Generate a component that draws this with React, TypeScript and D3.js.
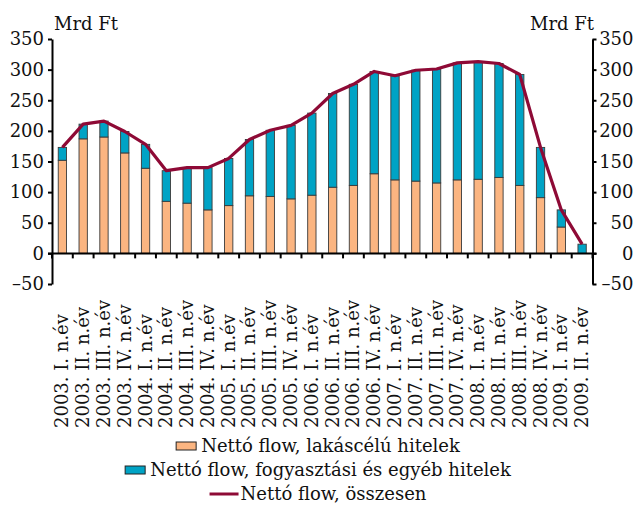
import React, { useEffect, useRef } from "react";
import * as d3 from "d3";

const categories = [
  "2003. I. n.év", "2003. II. n.év", "2003. III. n.év", "2003. IV. n.év",
  "2004. I. n.év", "2004. II. n.év", "2004. III. n.év", "2004. IV. n.év",
  "2005. I. n.év", "2005. II. n.év", "2005. III. n.év", "2005. IV. n.év",
  "2006. I. n.év", "2006. II. n.év", "2006. III. n.év", "2006. IV. n.év",
  "2007. I. n.év", "2007. II. n.év", "2007. III. n.év", "2007. IV. n.év",
  "2008. I. n.év", "2008. II. n.év", "2008. III. n.év", "2008. IV. n.év",
  "2009. I. n.év", "2009. II. n.év",
];

const housing = [152, 187, 190, 164, 139, 85, 82, 71, 78, 94, 93, 89, 95, 108, 111, 130, 120, 118, 115, 120, 121, 124, 111, 91, 43, 0];
const consumer = [21, 24, 26, 35, 39, 50, 58, 69, 77, 92, 108, 120, 134, 153, 165, 167, 170, 181, 186, 191, 192, 186, 181, 82, 28, 15];
const total = [173, 211, 216, 199, 178, 135, 140, 140, 155, 186, 201, 209, 229, 261, 276, 297, 290, 299, 301, 311, 313, 310, 292, 173, 71, 15];

const yTicks = [-50, 0, 50, 100, 150, 200, 250, 300, 350];
const unitLabel = "Mrd Ft";
const legendLabels = [
  "Nettó flow, lakáscélú hitelek",
  "Nettó flow, fogyasztási és egyéb hitelek",
  "Nettó flow, összesen",
];

const FONT = "DejaVu Serif";
const ORANGE = "#FBB581";
const TEAL = "#00A3C5";
const LINE = "#8E0A36";

export default function App() {
  const ref = useRef<SVGSVGElement | null>(null);

  useEffect(() => {
    const svg = d3.select(ref.current);
    svg.selectAll("*").remove();

    const left = 52, right = 592.5;
    const x = d3.scaleBand<string>().domain(categories).range([left, right]).paddingInner(0.6).paddingOuter(0.3);
    const step = x.step();
    const y = d3.scaleLinear().domain([-50, 350]).range([284, 39]);
    const fmt = (d: number) => (d < 0 ? "–" + Math.abs(d) : String(d));

    // Bars
    const g = svg.append("g");
    categories.forEach((c, i) => {
      const bx = x(c)!;
      const bw = x.bandwidth();
      if (housing[i] > 0) {
        g.append("rect")
          .attr("x", bx).attr("width", bw)
          .attr("y", y(housing[i])).attr("height", y(0) - y(housing[i]))
          .attr("fill", ORANGE).attr("stroke", "#3a3a3a").attr("stroke-width", 0.9);
      }
      g.append("rect")
        .attr("x", bx).attr("width", bw)
        .attr("y", y(housing[i] + consumer[i])).attr("height", y(housing[i]) - y(housing[i] + consumer[i]))
        .attr("fill", TEAL).attr("stroke", "#3a3a3a").attr("stroke-width", 0.9);
    });

    // Zero line + category ticks
    svg.append("line").attr("x1", left - 4).attr("x2", right + 4)
      .attr("y1", y(0)).attr("y2", y(0)).attr("stroke", "#000").attr("stroke-width", 2);
    for (let i = 0; i <= categories.length; i++) {
      const tx = left + i * step;
      svg.append("line").attr("x1", tx).attr("x2", tx).attr("y1", y(0)).attr("y2", y(0) + 5)
        .attr("stroke", "#000").attr("stroke-width", 2);
    }

    // Line
    const lineGen = d3.line<number>()
      .x((_, i) => x(categories[i])! + x.bandwidth() / 2)
      .y((d) => y(d));
    svg.append("path").datum(total).attr("d", lineGen as any)
      .attr("fill", "none").attr("stroke", LINE).attr("stroke-width", 3.2)
      .attr("stroke-linejoin", "round");

    // Left axis
    const la = svg.append("g").attr("transform", `translate(${left},0)`)
      .call(d3.axisLeft(y).tickValues(yTicks).tickSize(4).tickSizeOuter(0).tickFormat(fmt as any).tickPadding(4));
    la.select(".domain").attr("stroke-width", 2);
    la.selectAll(".tick line").attr("stroke-width", 2);
    la.selectAll("text").attr("font-family", FONT).attr("font-size", 18).attr("fill", "#111");

    // Right axis
    const ra = svg.append("g").attr("transform", `translate(${right},0)`)
      .call(d3.axisRight(y).tickValues(yTicks).tickSize(4).tickSizeOuter(0).tickFormat(fmt as any).tickPadding(4));
    ra.select(".domain").attr("stroke-width", 2);
    ra.selectAll(".tick line").attr("stroke-width", 2);
    ra.selectAll("text").attr("font-family", FONT).attr("font-size", 18).attr("fill", "#111")
      .attr("text-anchor", "end").attr("x", 41);

    // Unit labels
    svg.append("text").attr("x", 54).attr("y", 30).attr("font-family", FONT).attr("font-size", 18)
      .attr("fill", "#111").text(unitLabel);
    svg.append("text").attr("x", 594).attr("y", 30).attr("text-anchor", "end").attr("font-family", FONT)
      .attr("font-size", 18).attr("fill", "#111").text(unitLabel);

    // Category labels
    categories.forEach((c) => {
      const cx = x(c)! + x.bandwidth() / 2 + 6;
      svg.append("text")
        .attr("transform", `translate(${cx},428) rotate(-90)`)
        .attr("font-family", FONT).attr("font-size", 18).attr("fill", "#111")
        .text(c);
    });

    // Legend
    const center = 318;
    const baselines = [452, 476, 500];
    legendLabels.forEach((lab, i) => {
      const lg = svg.append("g");
      const t = lg.append("text").attr("y", baselines[i]).attr("font-family", FONT)
        .attr("font-size", 18).attr("fill", "#111").text(lab);
      const tw = (t.node() as SVGTextElement).getComputedTextLength();
      const symW = i === 2 ? 29 : 20;
      const gap = i === 2 ? 2 : 5;
      const total = symW + gap + tw;
      const x0 = center - total / 2;
      t.attr("x", x0 + symW + gap);
      if (i < 2) {
        lg.append("rect").attr("x", x0).attr("y", baselines[i] - 10).attr("width", symW).attr("height", 8)
          .attr("fill", i === 0 ? ORANGE : TEAL).attr("stroke", "#222").attr("stroke-width", 1);
      } else {
        lg.append("line").attr("x1", x0).attr("x2", x0 + symW)
          .attr("y1", baselines[i] - 6).attr("y2", baselines[i] - 6)
          .attr("stroke", LINE).attr("stroke-width", 3);
      }
    });
  }, []);

  return (
    <svg ref={ref} width={637} height={505}
      style={{ position: "absolute", left: 0, top: 0, background: "#fff" }} />
  );
}
